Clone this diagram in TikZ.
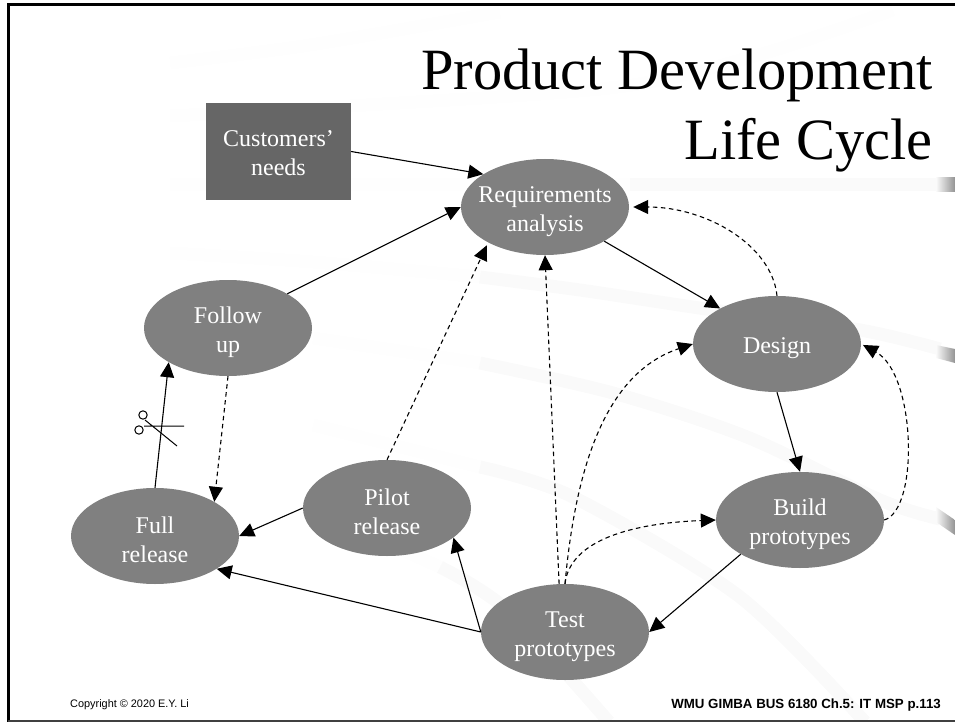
\documentclass[tikz,border=0pt]{standalone}
\usepackage{fontspec}
\setmainfont{Liberation Serif}
\setsansfont{Liberation Sans}
\usetikzlibrary{arrows.meta,shapes.geometric}
\definecolor{phase}{HTML}{808080}
\definecolor{source}{HTML}{666666}
\definecolor{band}{HTML}{FAFAFA}
\definecolor{bandleft}{HTML}{FEFEFE}
\newcommand{\phasepad}{\rule{0pt}{25pt}}
\newcommand{\sourcepad}{\rule{0pt}{20pt}}
\tikzset{
    phase/.style={ellipse,fill=phase,text=white,minimum width=168pt,minimum height=96pt,inner sep=-30pt,align=center,font=\fontsize{24}{29}\selectfont},
    source/.style={rectangle,fill=source,text=white,minimum width=145pt,minimum height=97pt,inner sep=0pt,align=center,font=\fontsize{24}{29}\selectfont},
    flow/.style={-{Triangle[length=15pt,width=14pt]},line width=1.1pt,black},
    back/.style={flow,dashed,dash pattern=on 4.5pt off 3.5pt},
    streak/.style={line width=13pt,line cap=butt}
}
\begin{document}
\begin{tikzpicture}[x=1pt,y=-1pt]
    \useasboundingbox (0,0) rectangle (955,722);

    %/ Background streaks
    \draw[streak,bandleft] plot[smooth] coordinates {(170,63) (310,45) (500,12)};
    \draw[streak,bandleft] plot[smooth] coordinates {(170,116) (350,106) (618,87) (765,53) (893,10)};
    \draw[streak,bandleft] (170,185) -- (630,185);
    \draw[streak,band] (630,185) -- (940,185);
    \draw[streak,bandleft] plot[smooth] coordinates {(170,253) (313,262) (480,277)};
    \draw[streak,band] plot[smooth] coordinates {(480,277) (580,290) (713,310) (860,330) (940,349)};
    \draw[streak,bandleft] plot[smooth] coordinates {(313,338) (480,363)};
    \draw[streak,band] plot[smooth] coordinates {(480,363) (613,393) (747,437) (880,500) (940,519)};
    \draw[streak,bandleft] plot[smooth] coordinates {(313,425) (480,467)};
    \draw[streak,band] plot[smooth] coordinates {(480,467) (573,497) (740,597) (865,722)};
    \draw[streak,bandleft] plot[smooth] coordinates {(313,510) (440,567)};
    \draw[streak,band] plot[smooth] coordinates {(440,567) (507,610) (609,722)};
    \shade[left color=band,right color=gray!85] (936,178) rectangle (955,192);
    \shade[left color=band,right color=gray!85] (936,345) -- (955,349) -- (955,363) -- (936,358) -- cycle;
    \shade[left color=band,right color=gray!85] (936,507) -- (955,520) -- (955,535) -- (936,522) -- cycle;

    %/ Frame
    \draw[line width=3pt] (955,5) -- (8,5) -- (8,722);
    \draw[line width=2pt,black!75] (8,721) -- (955,721);

    %/ Title
    \node[anchor=base east,align=right,inner sep=0pt,font=\fontsize{58.5}{70}\selectfont] (title) at (933,160) {Product Development\\Life Cycle};

    %/ Phases
    \foreach \x/\y/\phasename/\phasetext in {
      545/207/req/{Requirements\\analysis},
      777/344/design/{Design},
      800/520/build/{Build\\prototypes},
      565/632/test/{Test\\prototypes},
      387/508/pilot/{Pilot\\release},
      155/536/full/{Full\\release},
      228/328/follow/{Follow\\up}}
    \node[phase] (\phasename) at (\x,\y) {\phasepad\phasetext};
    \node[source] (needs) at (278.5,151.5) {\sourcepad Customers’\\needs};

    %/ Forward flow
    \draw[flow] (needs.east) -- (req.152);
    \draw[flow] (req.-30) -- (design.148);
    \draw[flow] (design.south) -- (build.north);
    \draw[flow] (build.210) -- (test.east);
    \draw[flow] (test.west) -- (full.-28);
    \draw[flow] (test.west) -- (pilot.-24);
    \draw[flow] (pilot.west) -- (full.east);
    \draw[flow] (full.north) -- (follow.210);
    \draw[flow] (follow.30) -- (req.west);

    %/ Feedback flow
    \draw[back] (follow.south) -- (full.30);
    \draw[back,shorten >=3pt] (pilot.north) -- (req.212);
    \draw[back] (test.97) -- (req.south);
    \draw[back] (test.north) .. controls +(10,-110) and +(-90,30) .. (design.west);
    \draw[back] (test.north) .. controls +(5,-45) and +(-80,3) .. (build.west);
    \draw[back,shorten >=2pt] (build.east) .. controls +(35,-10) and +(55,30) .. (design.east);
    \draw[back,shorten >=4pt] (design.north) .. controls +(-5,-50) and +(78,0) .. (req.east);

    %/ Scissors
    \draw[line width=1pt] (143,415) circle(4.2pt) (139,430) circle(4.2pt);
    \draw[line width=1pt] (145,420) -- (177,446) (144,426) -- (184,426);

    %/ Footer
    \node[anchor=west,inner sep=0pt,font=\sffamily\fontsize{10.9}{12}\selectfont] (copyright) at (70,705) {Copyright © 2020 E.Y. Li};
    \node[anchor=east,inner sep=0pt,font=\sffamily\bfseries\fontsize{13.3}{15}\selectfont] (course) at (941,705) {WMU GIMBA BUS 6180 Ch.5: IT MSP p.113};
\end{tikzpicture}
\end{document}
